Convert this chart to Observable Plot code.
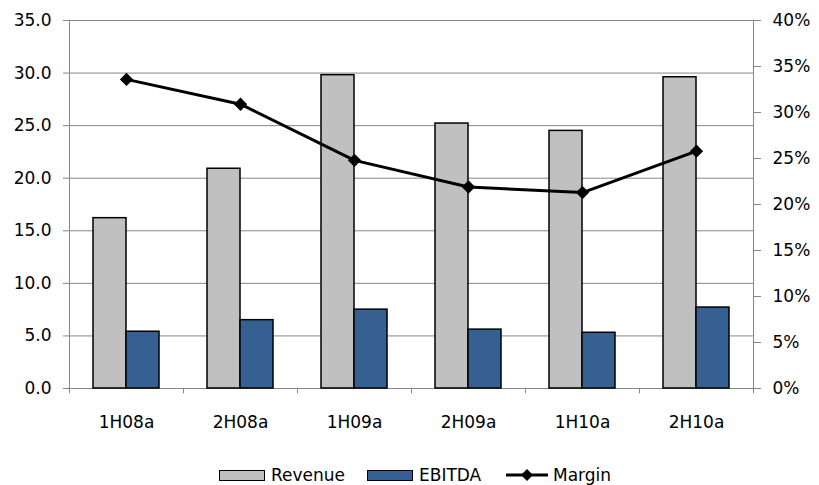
<!DOCTYPE html>
<html><head><meta charset="utf-8">
<script src="https://cdn.jsdelivr.net/npm/d3@7"></script>
<script src="https://cdn.jsdelivr.net/npm/@observablehq/plot@0.6"></script>
<style>
body{margin:0;background:#fff;font-family:"DejaVu Sans",Verdana,sans-serif;}
#legend{position:relative;height:40px;width:819px;font-size:17px;color:#000;}
.item{position:absolute;top:20px;display:flex;align-items:center;height:20px;line-height:20px;}
.sw{width:44px;height:9px;border:1.5px solid #000;margin-right:6px;}
</style></head><body>
<div id="chart"></div>
<div id="legend"></div>
<script>
const categories = ["1H08a","2H08a","1H09a","2H09a","1H10a","2H10a"];
const revenue = [16.2, 20.9, 29.8, 25.2, 24.5, 29.6];
const ebitda = [5.4, 6.5, 7.5, 5.6, 5.3, 7.7];
const margin = [33.6, 30.9, 24.8, 21.9, 21.3, 25.8]; // percent
const leftTicks = [0, 5, 10, 15, 20, 25, 30, 35];
const rightTicks = [0, 5, 10, 15, 20, 25, 30, 35, 40];
const seriesNames = ["Revenue", "EBITDA", "Margin"];
const colors = {Revenue: "#c0c0c0", EBITDA: "#376092", Margin: "#000"};

const W = 819, H = 445, mL = 69, mR = 66, mT = 20, mB = 57;
const step = (W - mL - mR) / categories.length;
const ratio = 35 / 40; // right axis (0–40%) onto left axis (0–35)
const rows = categories.map((c, i) => ({cat: c, revenue: revenue[i], ebitda: ebitda[i], margin: margin[i]}));
const grid = "#868686";
const font = '"DejaVu Sans", Verdana, sans-serif';

const chart = Plot.plot({
  width: W, height: H, marginLeft: mL, marginRight: mR, marginTop: mT, marginBottom: mB,
  style: {fontFamily: font, fontSize: "17px", color: "#000", background: "#fff"},
  x: {type: "band", domain: categories, padding: 0},
  y: {domain: [0, 35]},
  marks: [
    Plot.ruleY(leftTicks, {stroke: grid, strokeWidth: 1}),
    Plot.frame({stroke: grid}),
    Plot.ruleX(categories, {x: d => d, dx: -step / 2, y1: 0, y2: -0.5, stroke: grid}),
    Plot.ruleX([categories[categories.length - 1]], {x: d => d, dx: step / 2, y1: 0, y2: -0.5, stroke: grid}),
    Plot.barY(rows, {x: "cat", y: "revenue", fill: colors.Revenue, stroke: "#000", strokeWidth: 1.5, insetLeft: 24, insetRight: 57}),
    Plot.barY(rows, {x: "cat", y: "ebitda", fill: colors.EBITDA, stroke: "#000", strokeWidth: 1.5, insetLeft: 57, insetRight: 24}),
    Plot.line(rows, {x: "cat", y: d => d.margin * ratio, stroke: colors.Margin, strokeWidth: 3}),
    Plot.dot(rows, {x: "cat", y: d => d.margin * ratio, symbol: "diamond2", r: 6, fill: colors.Margin, stroke: null}),
    Plot.axisY({ticks: leftTicks, anchor: "left", tickFormat: d => d.toFixed(1), tickSize: 6, tickPadding: 12, stroke: grid, fill: "#000", label: null}),
    Plot.axisY({ticks: rightTicks.map(p => p * ratio), anchor: "right", tickFormat: d => Math.round(d / ratio) + "%", tickSize: 7, tickPadding: 12, stroke: grid, fill: "#000", label: null}),
    Plot.axisX({tickSize: 0, tickPadding: 27, fill: "#000", label: null})
  ]
});
document.getElementById("chart").appendChild(chart);

// legend
const legend = document.getElementById("legend");
const lefts = [219, 367, 506];
seriesNames.forEach((name, i) => {
  const item = document.createElement("div");
  item.className = "item";
  item.style.left = lefts[i] + "px";
  if (name === "Margin") {
    item.innerHTML = `<svg width="42" height="14" style="margin-right:5px"><line x1="0" y1="7" x2="42" y2="7" stroke="#000" stroke-width="3"/><path d="M21,1 L27,7 L21,13 L15,7 Z" fill="#000"/></svg><span>${name}</span>`;
  } else {
    item.innerHTML = `<div class="sw" style="background:${colors[name]}"></div><span>${name}</span>`;
  }
  legend.appendChild(item);
});
</script>
</body></html>
